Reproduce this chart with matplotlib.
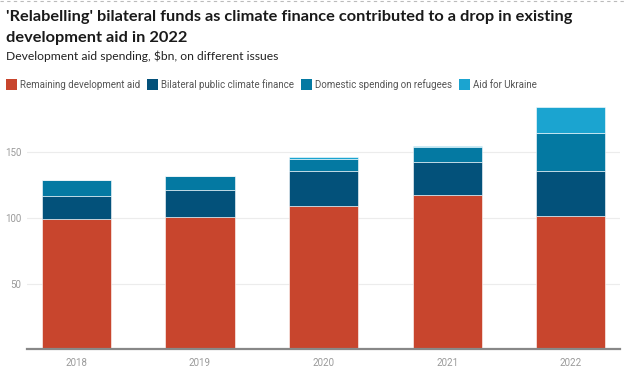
import matplotlib
matplotlib.use("Agg")
import matplotlib.pyplot as plt
import numpy as np
from matplotlib.patches import Rectangle

years = ["2018", "2019", "2020", "2021", "2022"]
series_names = ["Remaining development aid", "Bilateral public climate finance",
                "Domestic spending on refugees", "Aid for Ukraine"]
remaining = [99, 101, 109, 117.5, 101.5]
climate = [18, 20, 27, 25.5, 34.3]
refugees = [12, 10.8, 9.2, 11, 29.2]
ukraine = [0.3, 0.3, 1.0, 1.0, 19.3]
yticks = [50, 100, 150]
colors = ["#c8452d", "#03517a", "#0479a2", "#1ba4d0"]

W, H = 624, 367
fig = plt.figure(figsize=(W / 100, H / 100), dpi=100)
ax = fig.add_axes([0.043, 0.048, 0.951, 0.68])

x = np.arange(len(years))
bottom = np.zeros(len(years))
for vals, c in zip([remaining, climate, refugees, ukraine], colors):
    ax.bar(x, vals, width=0.56, bottom=bottom, color=c, edgecolor="#ffffff",
           linewidth=0.4, zorder=3)
    bottom += np.array(vals)

ax.set_xlim(-0.4, 4.4)
ax.set_ylim(0, 190)
ax.set_xticks(x)
ax.set_xticklabels(years)
ax.set_yticks(yticks)
ax.tick_params(axis="both", length=0, labelsize=7, labelcolor="#9a9a9a",
               labelfontfamily="Roboto")
ax.tick_params(axis="x", pad=6)
ax.tick_params(axis="y", pad=4)
ax.grid(axis="y", color="#ececec", linewidth=0.8, zorder=0)
for s in ["top", "right", "left"]:
    ax.spines[s].set_visible(False)
ax.spines["bottom"].set_color("#888888")
ax.spines["bottom"].set_linewidth(1.6)
ax.spines["bottom"].set_zorder(4)

def fy(py):
    return 1 - py / H

fig.text(6 / W, fy(21), "'Relabelling' bilateral funds as climate finance contributed to a drop in existing",
         ha="left", va="baseline", fontsize=11.8, fontweight="bold", family="Lato",
         color="#1a1a1a")
fig.text(6 / W, fy(42), "development aid in 2022",
         ha="left", va="baseline", fontsize=11.8, fontweight="bold", family="Lato",
         color="#1a1a1a")
fig.text(6 / W, fy(60), "Development aid spending, $bn, on different issues",
         ha="left", va="baseline", fontsize=8.7, family="Lato", color="#222222")

# legend
leg_x = [6, 147, 301, 459]
for lx, name, c in zip(leg_x, series_names, colors):
    fig.patches.append(Rectangle((lx / W, fy(90)), 10.5 / W, 10.5 / H,
                                 transform=fig.transFigure, facecolor=c,
                                 edgecolor="none"))
    fig.text((lx + 14) / W, fy(85), name, ha="left", va="center",
             fontsize=7, family="Roboto", color="#555555")

# dashed top border
fig.add_artist(plt.Line2D([0, 1], [fy(0.5), fy(0.5)], transform=fig.transFigure,
                          color="#bbbbbb", linewidth=0.8, linestyle=(0, (3, 3))))

fig.savefig("out.png", dpi=100)
